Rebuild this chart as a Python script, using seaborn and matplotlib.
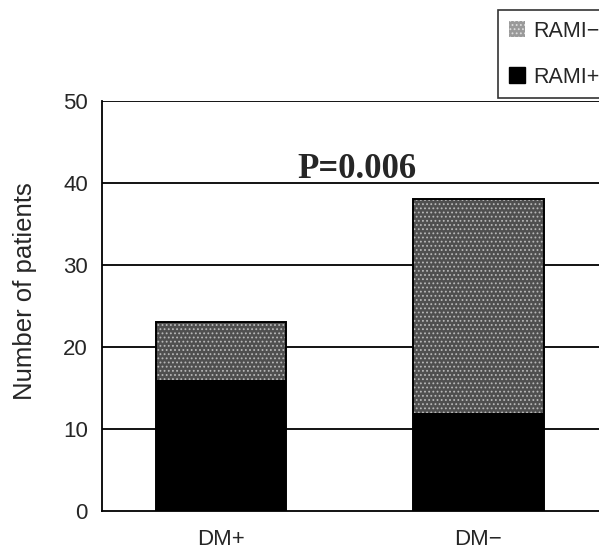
import matplotlib
matplotlib.use("Agg")
import matplotlib.pyplot as plt
from matplotlib.patches import Patch, Rectangle
import pandas as pd
import seaborn as sns

# ---------------------------------------------------------------------------
# Data
# ---------------------------------------------------------------------------
groups = ["DM+", "DM\u2212"]
rami_pos = [16, 12]     # black lower segment
rami_neg = [7, 26]      # grey upper segment
y_ticks = [0, 10, 20, 30, 40, 50]
p_text = "P=0.006"

GREY = "#4f4f4f"
SPECKLE = "#b8b8b8"

df = pd.DataFrame({
    "group": groups,
    "pos": rami_pos,
    "total": [a + b for a, b in zip(rami_pos, rami_neg)],
})

sns.set_style("white")
plt.rcParams["font.family"] = ["Liberation Sans", "DejaVu Sans"]
plt.rcParams["hatch.linewidth"] = 0.8

fig = plt.figure(figsize=(5.99, 5.52), dpi=100)
ax = fig.add_axes([0.170, 0.0743, 1.2, 0.743])

# grid behind bars
for v in y_ticks[1:]:
    ax.axhline(v, color="black", linewidth=1.3, zorder=0)

# totals (grey, speckled) then RAMI+ (black) on top
sns.barplot(data=df, x="group", y="total", color=GREY, width=0.507,
            saturation=1, ax=ax, zorder=2)
grey_bars = list(ax.patches)
for p in grey_bars:
    p.set_hatch("....")
    p.set_edgecolor(SPECKLE)
    p.set_linewidth(0)
    ax.add_patch(Rectangle(p.get_xy(), p.get_width(), p.get_height(),
                           fill=False, ec="black", lw=1.4, zorder=3))

sns.barplot(data=df, x="group", y="pos", color="black", width=0.507,
            saturation=1, linewidth=0, ax=ax, zorder=4)

ax.set_xlim(-0.464, 2.33)
ax.set_ylim(0, 50)
ax.set_yticks(y_ticks)
ax.set_yticklabels([str(v) for v in y_ticks], fontsize=16)
ax.tick_params(axis="y", length=0, pad=10)
ax.tick_params(axis="x", length=0, labelsize=16, pad=13)
ax.set_xticks([0.5], minor=True)
ax.tick_params(axis="x", which="minor", direction="in", length=5, width=1)
ax.set_xlabel("")
ax.set_ylabel("Number of patients", fontsize=18.5)
ax.yaxis.set_label_coords(-0.090, 0.537)

for side in ["top", "right"]:
    ax.spines[side].set_visible(False)
for side in ["left", "bottom"]:
    ax.spines[side].set_color("black")
    ax.spines[side].set_linewidth(1.3)

ax.text(0.526, 41.6, p_text, ha="center", va="center", fontsize=25,
        fontweight="bold", family="Liberation Serif")

handles = [
    Patch(facecolor="#9a9a9a", edgecolor="#dddddd", hatch="....", lw=0),
    Patch(facecolor="black", edgecolor="black"),
]
leg = fig.legend(handles, ["RAMI\u2212", "RAMI+"], loc="upper left",
                 bbox_to_anchor=(498 / 599, 1 - 10 / 552), fontsize=15.5,
                 frameon=True, fancybox=False, edgecolor="black",
                 handlelength=0.75, handleheight=0.75, handletextpad=0.4,
                 labelspacing=1.15, borderpad=0.5, borderaxespad=0)
leg.get_frame().set_linewidth(1.2)

fig.savefig("out.png", dpi=100)
